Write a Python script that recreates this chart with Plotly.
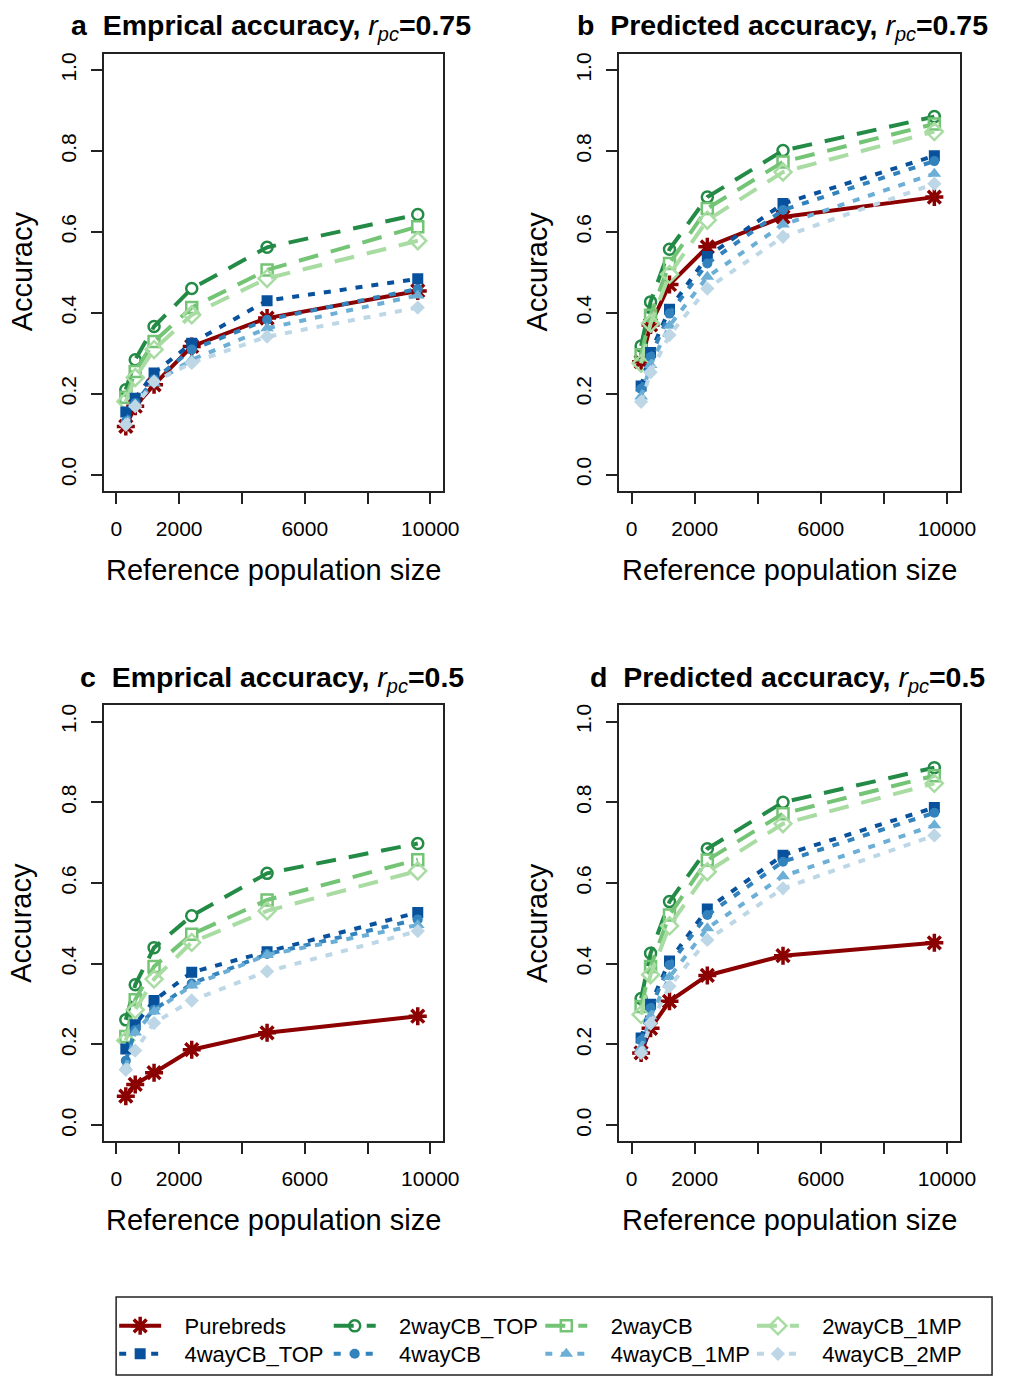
import plotly.graph_objects as go

W, H = 1011, 1377

ref_size = [300, 600, 1200, 2400, 4800, 9600]

series_names = ["Purebreds", "2wayCB_TOP", "2wayCB", "2wayCB_1MP",
                "4wayCB_TOP", "4wayCB", "4wayCB_1MP", "4wayCB_2MP"]

# Panel a: empirical accuracy, r_pc = 0.75
emp75_purebreds = [0.119, 0.169, 0.222, 0.317, 0.387, 0.454]
emp75_2way_top = [0.210, 0.284, 0.366, 0.460, 0.562, 0.643]
emp75_2way = [0.191, 0.255, 0.329, 0.413, 0.506, 0.613]
emp75_2way_1mp = [0.181, 0.240, 0.309, 0.395, 0.485, 0.578]
emp75_4way_top = [0.155, 0.189, 0.251, 0.325, 0.430, 0.484]
emp75_4way = [0.132, 0.177, 0.235, 0.309, 0.383, 0.459]
emp75_4way_1mp = [0.128, 0.173, 0.226, 0.284, 0.362, 0.443]
emp75_4way_2mp = [0.123, 0.169, 0.230, 0.276, 0.341, 0.413]

# Panel b: predicted accuracy, r_pc = 0.75
pred75_purebreds = [0.279, 0.370, 0.470, 0.563, 0.637, 0.686]
pred75_2way_top = [0.318, 0.427, 0.557, 0.686, 0.801, 0.885]
pred75_2way = [0.296, 0.394, 0.522, 0.658, 0.773, 0.867]
pred75_2way_1mp = [0.275, 0.374, 0.495, 0.629, 0.748, 0.848]
pred75_4way_top = [0.219, 0.302, 0.409, 0.539, 0.670, 0.788]
pred75_4way = [0.212, 0.291, 0.398, 0.522, 0.654, 0.775]
pred75_4way_1mp = [0.193, 0.271, 0.368, 0.489, 0.618, 0.744]
pred75_4way_2mp = [0.180, 0.253, 0.345, 0.460, 0.588, 0.719]

# Panel c: empirical accuracy, r_pc = 0.5
emp50_purebreds = [0.072, 0.101, 0.130, 0.187, 0.229, 0.270]
emp50_2way_top = [0.261, 0.348, 0.440, 0.519, 0.624, 0.698]
emp50_2way = [0.220, 0.311, 0.393, 0.473, 0.558, 0.658]
emp50_2way_1mp = [0.210, 0.286, 0.362, 0.453, 0.531, 0.630]
emp50_4way_top = [0.189, 0.249, 0.309, 0.379, 0.430, 0.527]
emp50_4way = [0.160, 0.236, 0.286, 0.351, 0.424, 0.510]
emp50_4way_1mp = [0.144, 0.230, 0.282, 0.346, 0.422, 0.496]
emp50_4way_2mp = [0.137, 0.185, 0.253, 0.309, 0.381, 0.481]

# Panel d: predicted accuracy, r_pc = 0.5
pred50_purebreds = [0.179, 0.240, 0.307, 0.371, 0.420, 0.452]
pred50_2way_top = [0.314, 0.426, 0.554, 0.685, 0.800, 0.886]
pred50_2way = [0.294, 0.393, 0.521, 0.657, 0.772, 0.866]
pred50_2way_1mp = [0.274, 0.373, 0.494, 0.628, 0.747, 0.847]
pred50_4way_top = [0.216, 0.300, 0.407, 0.536, 0.669, 0.787]
pred50_4way = [0.210, 0.290, 0.397, 0.521, 0.653, 0.774]
pred50_4way_1mp = [0.192, 0.270, 0.367, 0.488, 0.617, 0.743]
pred50_4way_2mp = [0.179, 0.252, 0.344, 0.459, 0.587, 0.718]

x_label_ticks = [0, 2000, 6000, 10000]
x_label_text = ["0", "2000", "6000", "10000"]
x_minor_ticks = [4000, 8000]
y_tickvals = [0.0, 0.2, 0.4, 0.6, 0.8, 1.0]
y_ticktext = ["0.0", "0.2", "0.4", "0.6", "0.8", "1.0"]

panels = [
    ("a", "Emprical accuracy, ", "0.75",
     [emp75_purebreds, emp75_2way_top, emp75_2way, emp75_2way_1mp,
      emp75_4way_top, emp75_4way, emp75_4way_1mp, emp75_4way_2mp]),
    ("b", "Predicted accuracy, ", "0.75",
     [pred75_purebreds, pred75_2way_top, pred75_2way, pred75_2way_1mp,
      pred75_4way_top, pred75_4way, pred75_4way_1mp, pred75_4way_2mp]),
    ("c", "Emprical accuracy, ", "0.5",
     [emp50_purebreds, emp50_2way_top, emp50_2way, emp50_2way_1mp,
      emp50_4way_top, emp50_4way, emp50_4way_1mp, emp50_4way_2mp]),
    ("d", "Predicted accuracy, ", "0.5",
     [pred50_purebreds, pred50_2way_top, pred50_2way, pred50_2way_1mp,
      pred50_4way_top, pred50_4way, pred50_4way_1mp, pred50_4way_2mp]),
]

colors = ["#8B0000", "#238B45", "#74C476", "#A8DCA2",
          "#08519C", "#3182BD", "#6BAED6", "#BDD7E7"]
symbols = ["asterisk-open", "circle-open", "square-open", "diamond-open",
           "square", "circle", "triangle-up", "diamond"]
msizes = [15, 11, 11, 13, 11, 10, 12, 11]
LONG = "20px,13px"
DOT = "7px,9px"
dashes = ["solid", LONG, LONG, LONG, DOT, DOT, DOT, DOT]

# panel geometry in pixels (left, right, top, bottom)
boxes = [(105.5, 450.0, 52.0, 489.5), (629.0, 975.0, 52.0, 489.5),
         (105.5, 450.0, 704.5, 1141.0), (629.0, 975.0, 704.5, 1141.0)]
title_left = [70, 584, 79, 597]
title_y = [25, 25, 678, 678]

# legend entry positions (pixels): column left edges, row centres
legend_cols = [116, 334, 549, 764]
legend_rows = [1326, 1354]

FONT = "Liberation Sans, Arial, sans-serif"

fig = go.Figure()
layout = dict(
    width=W, height=H,
    margin=dict(l=0, r=0, t=0, b=0),
    paper_bgcolor="white", plot_bgcolor="white",
    font=dict(family=FONT, color="black"),
    showlegend=True,
)
annotations = []

for i, (letter, ttl, rval, data) in enumerate(panels):
    k = "" if i == 0 else str(i + 1)
    l, r, t, b = boxes[i]
    common = dict(
        showline=True, mirror=True, linecolor="#222", linewidth=1.5,
        ticks="outside", ticklen=11, tickwidth=1.5, tickcolor="#222",
        showgrid=False, zeroline=False,
        tickfont=dict(size=21, family=FONT, color="black"),
    )
    layout["xaxis" + k] = dict(
        domain=[l / W, r / W], anchor="y" + k, range=[-400, 10400],
        tickmode="array", tickvals=x_label_ticks, ticktext=x_label_text,
        minor=dict(tickmode="array", tickvals=x_minor_ticks, ticks="outside",
                   ticklen=11, tickwidth=1.5, tickcolor="#222", showgrid=False),
        ticklabelstandoff=7, **common)
    layout["yaxis" + k] = dict(
        domain=[1 - b / H, 1 - t / H], anchor="x" + k, range=[-0.04, 1.04],
        tickmode="array", tickvals=y_tickvals, ticktext=y_ticktext,
        tickangle=-90, ticklabelstandoff=7, **common)
    for j, name in enumerate(series_names):
        leg = "legend" if j == 0 else "legend" + str(j + 1)
        fig.add_trace(go.Scatter(
            x=ref_size, y=data[j], name="\u00a0\u00a0\u00a0" + name,
            mode="lines+markers",
            xaxis="x" + k, yaxis="y" + k,
            legend=leg, legendgroup=name, showlegend=(i == 0),
            line=dict(color=colors[j], width=4, dash=dashes[j]),
            marker=dict(symbol=symbols[j], size=msizes[j], color=colors[j],
                        line=dict(color=colors[j],
                                  width=3.5 if j == 0 else (2.5 if j < 4 else 0))),
        ))
    title = ("<b>" + letter + "\u00a0\u00a0" + ttl + "</b><i>r</i>"
             "<sub><i>pc</i></sub><b>=" + rval + "</b>")
    annotations.append(dict(
        text=title, x=title_left[i] / W, y=1 - title_y[i] / H,
        xref="paper", yref="paper", xanchor="left", yanchor="middle",
        showarrow=False, font=dict(size=28.5, family=FONT, color="black")))
    annotations.append(dict(
        text="Accuracy", textangle=-90, x=(l - 83.5) / W,
        y=1 - (t + 218) / H, xref="paper", yref="paper",
        xanchor="center", yanchor="middle", showarrow=False,
        font=dict(size=29, family=FONT, color="black")))
    annotations.append(dict(
        text="Reference population size", x=(l + r) / 2 / W,
        y=1 - (b + 79) / H, xref="paper", yref="paper",
        xanchor="center", yanchor="middle", showarrow=False,
        font=dict(size=29, family=FONT, color="black")))

layout["annotations"] = annotations
for j in range(len(series_names)):
    leg = "legend" if j == 0 else "legend" + str(j + 1)
    layout[leg] = dict(
        x=legend_cols[j % 4] / W, y=1 - legend_rows[j // 4] / H,
        xanchor="left", yanchor="middle", orientation="v",
        itemwidth=42, borderwidth=0, bgcolor="rgba(0,0,0,0)",
        font=dict(size=22, family=FONT, color="black"),
    )
layout["shapes"] = [dict(
    type="rect", xref="paper", yref="paper",
    x0=118 / W, x1=1008 / W, y0=1 - 1375 / H, y1=1 - 1297 / H,
    line=dict(color="#222", width=1.5), fillcolor="rgba(0,0,0,0)", layer="below")]
fig.update_layout(**layout)
fig.write_html(
    "out.html",
    config={"displayModeBar": False},
    post_script=(
        "var st=document.createElement('style');"
        "st.textContent='html,body{margin:0!important;padding:0!important;"
        "overflow:hidden!important;width:1011px!important;}"
        ".js-plotly-plot .plotly .main-svg{overflow:hidden!important;}"
        ".svg-container{overflow:hidden!important;}';"
        "document.head.appendChild(st);"))
